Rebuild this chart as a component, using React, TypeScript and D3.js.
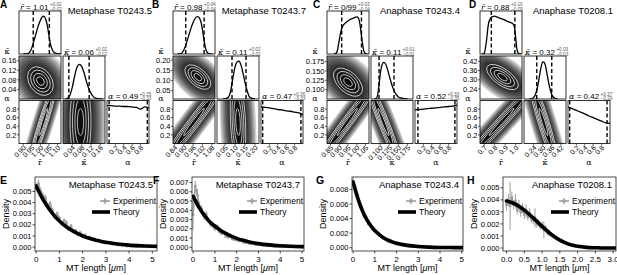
import React from "react";
import * as d3 from "d3";

const W = 617;
const H = 275;
const SANS = "'Liberation Sans', Arial, Helvetica, sans-serif";
const SERIF = "'DejaVu Serif', 'Liberation Serif', serif";

// ================= top row: corner plots =================
const cornerLetters = ["A", "B", "C", "D"];
const cornerTitles = ["Metaphase T0243.5", "Metaphase T0243.7", "Anaphase T0243.4", "Anaphase T0208.1"];
const cornerLeft = [19, 173, 327, 480];
const cornerLetterX = [0, 152, 313, 469];

const rDomains = [[0.875, 1.12], [0.83, 1.1], [0.83, 1.07], [0.66, 1.06]];
const kDomains = [[0, 0.18], [0.01, 0.22], [0.075, 0.19], [0.175, 0.455]];
const rTicks = [[0.9, 0.95, 1.0, 1.05, 1.1], [0.84, 0.9, 0.96, 1.02, 1.08], [0.85, 0.9, 0.95, 1.0, 1.05], [0.7, 0.8, 0.9, 1.0]];
const rTickFmt = [".2f", ".2f", ".2f", ".1f"];
const kTicks = [[0.04, 0.08, 0.12, 0.16], [0.05, 0.1, 0.15, 0.2], [0.1, 0.125, 0.15, 0.175], [0.24, 0.3, 0.36, 0.42]];
const kTickFmt = [".2f", ".2f", ".3f", ".2f"];
const aTicks = [0.2, 0.4, 0.6, 0.8];

const rEst = ["1.01", "0.98", "0/99", "0.88"];
const rPlus = ["0.02", "0.04", "0.03", "0.10"];
const rMinus = ["0.02", "0.04", "0.04", "0.09"];
const kEst = ["0.06", "0.11", "0.11", "0.32"];
const kPlus = ["0.02", "0.02", "0.01", "0.03"];
const kMinus = ["0.02", "0.02", "0.01", "0.03"];
const aEst = ["0.49", "0.47", "0.52", "0.42"];
const aPlus = ["0.35", "0.36", "0.30", "0.37"];
const aMinus = ["0.33", "0.33", "0.35", "0.29"];

// marginal histograms of r (x values, relative heights)
const rHistX = [
  [0.9, 0.92, 0.93, 0.94, 0.95, 0.96, 0.97, 0.98, 0.99, 1.0, 1.01, 1.02, 1.03, 1.04, 1.05, 1.06, 1.07, 1.08, 1.09, 1.1, 1.12],
  [0.86, 0.88, 0.89, 0.9, 0.91, 0.92, 0.93, 0.94, 0.95, 0.96, 0.97, 0.98, 0.99, 1.0, 1.01, 1.02, 1.03, 1.04, 1.05, 1.06, 1.08],
  [0.87, 0.88, 0.89, 0.9, 0.91, 0.92, 0.93, 0.94, 0.95, 0.96, 0.97, 0.98, 0.99, 1.0, 1.01, 1.02, 1.03, 1.04, 1.05, 1.06],
  [0.68, 0.7, 0.72, 0.74, 0.76, 0.78, 0.8, 0.82, 0.84, 0.86, 0.88, 0.9, 0.92, 0.94, 0.96, 0.98, 0.99, 1.0, 1.01, 1.02, 1.03, 1.05],
];
const rHistY = [
  [0, 0, 0.02, 0.06, 0.16, 0.3, 0.45, 0.6, 0.74, 0.85, 0.93, 0.95, 0.88, 0.72, 0.45, 0.22, 0.1, 0.04, 0.02, 0.01, 0],
  [0, 0.01, 0.04, 0.1, 0.2, 0.32, 0.45, 0.58, 0.7, 0.8, 0.88, 0.93, 0.94, 0.9, 0.8, 0.6, 0.33, 0.13, 0.04, 0.01, 0],
  [0, 0.01, 0.1, 0.35, 0.58, 0.7, 0.76, 0.8, 0.83, 0.86, 0.88, 0.9, 0.92, 0.93, 0.9, 0.7, 0.35, 0.08, 0.01, 0],
  [0, 0.02, 0.3, 0.75, 0.9, 0.94, 0.95, 0.93, 0.91, 0.89, 0.87, 0.85, 0.82, 0.8, 0.78, 0.74, 0.65, 0.4, 0.15, 0.04, 0.01, 0],
];
const rDash = [[0.958, 1.052], [0.912, 1.03], [0.914, 1.027], [0.768, 0.992]];

// marginal histograms of kappa
const kHistX = [
  [0.01, 0.02, 0.03, 0.04, 0.05, 0.06, 0.07, 0.08, 0.09, 0.1, 0.11, 0.12, 0.13, 0.14, 0.15, 0.17],
  [0.04, 0.06, 0.07, 0.08, 0.09, 0.1, 0.11, 0.12, 0.13, 0.14, 0.15, 0.16, 0.17, 0.18, 0.2],
  [0.085, 0.09, 0.095, 0.1, 0.105, 0.11, 0.115, 0.12, 0.125, 0.13, 0.135, 0.14, 0.145, 0.15, 0.16, 0.175],
  [0.21, 0.23, 0.24, 0.25, 0.26, 0.27, 0.28, 0.29, 0.3, 0.31, 0.32, 0.33, 0.34, 0.35, 0.36, 0.37, 0.38, 0.4],
];
const kHistY = [
  [0, 0.02, 0.1, 0.3, 0.58, 0.8, 0.87, 0.82, 0.66, 0.45, 0.27, 0.14, 0.06, 0.02, 0.01, 0],
  [0, 0.02, 0.07, 0.25, 0.55, 0.8, 0.93, 0.95, 0.85, 0.65, 0.42, 0.22, 0.07, 0.02, 0],
  [0, 0.02, 0.2, 0.6, 0.85, 0.92, 0.88, 0.75, 0.58, 0.42, 0.28, 0.17, 0.1, 0.05, 0.02, 0],
  [0, 0.01, 0.04, 0.1, 0.22, 0.4, 0.62, 0.82, 0.93, 0.92, 0.8, 0.6, 0.4, 0.23, 0.11, 0.05, 0.02, 0],
];
const kDash = [[0.025, 0.112], [0.085, 0.155], [0.097, 0.138], [0.26, 0.36]];

// marginal histograms of alpha
const aHistX = [0, 0.1, 0.2, 0.3, 0.4, 0.5, 0.6, 0.7, 0.8, 0.9, 1.0];
const aHistY = [
  [0.88, 0.88, 0.87, 0.87, 0.86, 0.86, 0.85, 0.84, 0.8, 0.85, 0.82],
  [0.86, 0.84, 0.83, 0.81, 0.79, 0.78, 0.76, 0.75, 0.73, 0.71, 0.67],
  [0.78, 0.79, 0.8, 0.81, 0.82, 0.83, 0.84, 0.85, 0.86, 0.87, 0.89],
  [0.85, 0.81, 0.77, 0.73, 0.69, 0.64, 0.6, 0.56, 0.52, 0.48, 0.47],
];
const aDash = [[0.05, 0.96], [0.04, 0.95], [0.07, 0.95], [0.04, 0.93]];

// joint densities: kappa vs r (cloud: centre, sd, correlation)
const krCenter = [[1.0, 0.075], [0.99, 0.117], [0.95, 0.12], [0.874, 0.318]];
const krSd = [[0.05, 0.04], [0.055, 0.04], [0.055, 0.025], [0.1, 0.055]];
const krRho = [-0.3, -0.55, -0.5, -0.65];
// alpha vs r (band: r at alpha=0.5, slope dr/dalpha, width)
const arCenter = [1.017, 0.965, 0.946, 0.865];
const arSlope = [0.078, 0.206, 0.18, 0.37];
const arWidth = [0.018, 0.03, 0.025, 0.045];
// alpha vs kappa
const akCenter = [0.075, 0.115, 0.109, 0.305];
const akSlope = [0, -0.01, -0.046, -0.087];
const akWidth = [0.03, 0.025, 0.01, 0.025];
const ALPHA_SD = 0.7;

const CELL_W = 42;
const CELL_H = 43;
const STEP_X = 44;
const ROW_TOP = [11, 56, 100.5];
const HIST_MAX = 1.08;
const SHADE_LEVELS = [3.6, 3.3, 3.0, 2.75, 2.5, 2.25, 2.0, 1.8, 1.6, 1.4, 1.2, 1.0, 0.8, 0.6];
const SHADE_OPACITY = 0.18;
const CONTOUR_LEVELS = [0.45, 0.8, 1.15, 1.5];

function shape(kx: number, ky: number, Sxx: number, Syy: number, Sxy: number) {
  const a = kx * kx * Sxx;
  const b = ky * ky * Syy;
  const c = kx * ky * Sxy;
  const mid = (a + b) / 2;
  const d = Math.sqrt(((a - b) / 2) ** 2 + c * c);
  const l1 = mid + d;
  const l2 = Math.max(mid - d, 0.01);
  const ang = (0.5 * Math.atan2(2 * c, a - b) * 180) / Math.PI;
  return { rx: Math.sqrt(l1), ry: Math.sqrt(l2), ang };
}

function Frame({ x, y }: { x: number; y: number }) {
  return <rect x={x} y={y} width={CELL_W} height={CELL_H} fill="none" stroke="#000" strokeWidth={0.8} />;
}

function DensityCell({ id, x0, y0, px, py, sh }: any) {
  return (
    <g>
      <clipPath id={id}>
        <rect x={x0} y={y0} width={CELL_W} height={CELL_H} />
      </clipPath>
      <g clipPath={`url(#${id})`}>
        <rect x={x0} y={y0} width={CELL_W} height={CELL_H} fill="#fff" />
        <g transform={`translate(${px},${py}) rotate(${sh.ang})`}>
          {SHADE_LEVELS.map((m, k) => (
            <ellipse key={"s" + k} rx={m * sh.rx} ry={m * sh.ry} fill="#000" fillOpacity={SHADE_OPACITY} />
          ))}
          {CONTOUR_LEVELS.map((m, k) => (
            <ellipse key={"c" + k} rx={m * sh.rx} ry={m * sh.ry} fill="none" stroke="#fff" strokeWidth={0.7} />
          ))}
        </g>
      </g>
      <Frame x={x0} y={y0} />
    </g>
  );
}

function HistCell({ id, x0, y0, xs, ys, xScale, dash, yMax }: any) {
  const yS = d3.scaleLinear([0, yMax], [y0 + CELL_H, y0]);
  const line = d3
    .line<number>()
    .x((_, k) => xScale(xs[k]))
    .y((v) => yS(v))
    .curve(d3.curveMonotoneX);
  return (
    <g>
      <clipPath id={id}>
        <rect x={x0} y={y0} width={CELL_W} height={CELL_H} />
      </clipPath>
      <g clipPath={`url(#${id})`}>
        <path d={line(ys) || ""} fill="none" stroke="#000" strokeWidth={1.3} />
        {dash.map((v: number, k: number) => (
          <line key={k} x1={xScale(v)} x2={xScale(v)} y1={y0} y2={y0 + CELL_H} stroke="#000" strokeWidth={1.4} strokeDasharray="4 2.5" />
        ))}
      </g>
      <Frame x={x0} y={y0} />
    </g>
  );
}

function EstLabel({ x, y, sym, est, plus, minus }: any) {
  const supW = 11.5;
  return (
    <text x={x} y={y} fontFamily={SANS} fontSize={8} fill="#000">
      <tspan fontFamily={SERIF} fontStyle="italic">{sym}</tspan>
      <tspan>{" = " + est}</tspan>
      <tspan fontSize={4.6} fill="#555" dx={1.5} dy={-3.2}>{"+" + plus}</tspan>
      <tspan fontSize={4.6} fill="#555" dx={-supW} dy={4.6}>{"\u2212" + minus}</tspan>
    </text>
  );
}

function Corner({ i }: { i: number }) {
  const L = cornerLeft[i];
  const cx = [L, L + STEP_X, L + 2 * STEP_X];
  const xR = d3.scaleLinear(rDomains[i], [cx[0], cx[0] + CELL_W]);
  const xK = d3.scaleLinear(kDomains[i], [cx[1], cx[1] + CELL_W]);
  const xA = d3.scaleLinear([0, 1], [cx[2], cx[2] + CELL_W]);
  const yK = d3.scaleLinear(kDomains[i], [ROW_TOP[1] + CELL_H, ROW_TOP[1]]);
  const yA = d3.scaleLinear([0, 1], [ROW_TOP[2] + CELL_H, ROW_TOP[2]]);
  const slope = (s: any) => s(1) - s(0);

  const [sr, sk] = krSd[i];
  const krShape = shape(slope(xR), slope(yK), sr * sr, sk * sk, krRho[i] * sr * sk);
  const va = ALPHA_SD * ALPHA_SD;
  const arShape = shape(slope(xR), slope(yA), arSlope[i] ** 2 * va + arWidth[i] ** 2, va, arSlope[i] * va);
  const akShape = shape(slope(xK), slope(yA), akSlope[i] ** 2 * va + akWidth[i] ** 2, va, akSlope[i] * va);

  const bottom = ROW_TOP[2] + CELL_H;
  const rf = d3.format(rTickFmt[i]);
  const kf = d3.format(kTickFmt[i]);
  const af = d3.format(".1f");

  const xTickSets: [any, number[], (v: number) => string][] = [
    [xR, rTicks[i], rf],
    [xK, kTicks[i], kf],
    [xA, aTicks, af],
  ];

  return (
    <g>
      <text x={cornerLetterX[i]} y={8} fontFamily={SANS} fontWeight="bold" fontSize={10}>
        {cornerLetters[i]}
      </text>
      <text x={cx[2] + CELL_W + 3} y={13.5} textAnchor="end" fontFamily={SANS} fontSize={9.5}>
        {cornerTitles[i]}
      </text>

      <HistCell id={`rh${i}`} x0={cx[0]} y0={ROW_TOP[0]} xs={rHistX[i]} ys={rHistY[i]} xScale={xR} dash={rDash[i]} yMax={HIST_MAX} />
      <DensityCell id={`kr${i}`} x0={cx[0]} y0={ROW_TOP[1]} px={xR(krCenter[i][0])} py={yK(krCenter[i][1])} sh={krShape} />
      <HistCell id={`kh${i}`} x0={cx[1]} y0={ROW_TOP[1]} xs={kHistX[i]} ys={kHistY[i]} xScale={xK} dash={kDash[i]} yMax={HIST_MAX} />
      <DensityCell id={`ar${i}`} x0={cx[0]} y0={ROW_TOP[2]} px={xR(arCenter[i])} py={yA(0.5)} sh={arShape} />
      <DensityCell id={`ak${i}`} x0={cx[1]} y0={ROW_TOP[2]} px={xK(akCenter[i])} py={yA(0.5)} sh={akShape} />
      <HistCell id={`ah${i}`} x0={cx[2]} y0={ROW_TOP[2]} xs={aHistX} ys={aHistY[i]} xScale={xA} dash={aDash[i]} yMax={1} />

      <EstLabel x={cx[0] + 1} y={ROW_TOP[0] - 1.5} sym={"r\u0304"} est={rEst[i]} plus={rPlus[i]} minus={rMinus[i]} />
      <EstLabel x={cx[1] + 1} y={ROW_TOP[1] - 1.5} sym={"\u03ba\u0304"} est={kEst[i]} plus={kPlus[i]} minus={kMinus[i]} />
      <EstLabel x={cx[2] + 1} y={ROW_TOP[2] - 1.5} sym={"\u03b1"} est={aEst[i]} plus={aPlus[i]} minus={aMinus[i]} />

      {/* y axis labels */}
      <text x={L - 12} y={ROW_TOP[1] - 2} textAnchor="middle" fontFamily={SERIF} fontSize={8}>
        {"\u03ba\u0304"}
      </text>
      <text x={L - 12} y={ROW_TOP[2] + 0.5} textAnchor="middle" fontFamily={SERIF} fontSize={8}>
        {"\u03b1"}
      </text>
      {kTicks[i].map((t) => (
        <g key={"ky" + t}>
          <line x1={L - 2} x2={L} y1={yK(t)} y2={yK(t)} stroke="#000" strokeWidth={0.6} />
          <text x={L - 2.5} y={yK(t)} dy="0.35em" textAnchor="end" fontFamily={SANS} fontSize={7.5}>
            {kf(t)}
          </text>
        </g>
      ))}
      {aTicks.map((t) => (
        <g key={"ay" + t}>
          <line x1={L - 2} x2={L} y1={yA(t)} y2={yA(t)} stroke="#000" strokeWidth={0.6} />
          <text x={L - 2.5} y={yA(t)} dy="0.35em" textAnchor="end" fontFamily={SANS} fontSize={7.5}>
            {af(t)}
          </text>
        </g>
      ))}

      {/* x axis ticks (rotated) */}
      {xTickSets.map(([s, ticks, f], c) =>
        ticks.map((t) => (
          <g key={`xt${c}-${t}`}>
            <line x1={s(t)} x2={s(t)} y1={bottom} y2={bottom + 2} stroke="#000" strokeWidth={0.6} />
            <text
              transform={`translate(${s(t) + 1.5},${bottom + 3}) rotate(-45)`}
              textAnchor="end"
              dy="0.35em"
              fontFamily={SANS}
              fontSize={7}
            >
              {f(t)}
            </text>
          </g>
        ))
      )}
      <text x={cx[0] + CELL_W / 2} y={165} textAnchor="middle" fontFamily={SERIF} fontSize={8}>
        {"r\u0304"}
      </text>
      <text x={cx[1] + CELL_W / 2} y={165} textAnchor="middle" fontFamily={SERIF} fontSize={8}>
        {"\u03ba\u0304"}
      </text>
      <text x={cx[2] + CELL_W / 2} y={165} textAnchor="middle" fontFamily={SERIF} fontSize={8}>
        {"\u03b1"}
      </text>
    </g>
  );
}

// ================= bottom row: length distributions =================
const bottomLetters = ["E", "F", "G", "H"];
const bottomTitles = ["Metaphase T0243.5", "Metaphase T0243.7", "Anaphase T0243.4", "Anaphase T0208.1"];
const bottomLetterX = [0, 153, 316, 467];
const bottomBoxX = [[35, 157], [192, 304], [352, 463], [503, 616]];
const bxDomains = [[-0.05, 5.2], [-0.05, 5.09], [-0.05, 5.06], [-0.1, 3.08]];
const byDomains = [[-0.00035, 0.0063], [-0.0004, 0.0076], [-0.00045, 0.0097], [-0.00025, 0.0059]];
const bxTicks = [[0, 1, 2, 3, 4, 5], [0, 1, 2, 3, 4, 5], [0, 1, 2, 3, 4, 5], [0, 0.5, 1, 1.5, 2, 2.5, 3]];
const bxFmt = ["d", "d", "d", ".1f"];
const byTicks = [
  [0, 0.001, 0.002, 0.003, 0.004, 0.005],
  [0, 0.001, 0.002, 0.003, 0.004, 0.005, 0.006, 0.007],
  [0, 0.002, 0.004, 0.006, 0.008],
  [0, 0.001, 0.002, 0.003, 0.004, 0.005],
];
const DENS_UNIT = 1e-3;
const expStep = [0.1, 0.1, 0.1, 0.05];

const expE = [5.4, 5.7, 5.0, 4.6, 4.4, 3.7, 3.9, 3.3, 2.7, 3.0, 2.6, 2.1, 2.4, 2.2, 1.6, 1.9, 1.4, 1.5, 1.1, 1.3, 1.0, 1.1, 0.8, 0.9, 0.7, 0.75, 0.55, 0.6, 0.45, 0.5, 0.35, 0.4, 0.3, 0.25, 0.3, 0.2, 0.2, 0.15, 0.18, 0.1, 0.12, 0.08, 0.1, 0.06, 0.07, 0.05, 0.04, 0.05, 0.03, 0.03, 0.02];
const errE = [0.35, 0.35, 0.3, 0.3, 0.28, 0.25, 0.25, 0.22, 0.2, 0.22, 0.2, 0.18, 0.2, 0.18, 0.15, 0.16, 0.14, 0.14, 0.12, 0.12, 0.1, 0.1, 0.09, 0.09, 0.08, 0.08, 0.07, 0.07, 0.06, 0.06, 0.06, 0.05, 0.05, 0.05, 0.05, 0.04, 0.04, 0.04, 0.04, 0.03, 0.03, 0.03, 0.03, 0.03, 0.03, 0.02, 0.02, 0.02, 0.02, 0.02, 0.02];
const expF = [3.5, 6.6, 5.6, 4.4, 4.1, 3.4, 3.6, 2.9, 2.5, 2.3, 2.0, 2.2, 1.7, 1.5, 1.6, 1.2, 1.1, 1.2, 0.9, 0.85, 0.8, 0.7, 0.75, 0.55, 0.5, 0.55, 0.4, 0.45, 0.35, 0.3, 0.3, 0.28, 0.22, 0.25, 0.18, 0.16, 0.15, 0.12, 0.1, 0.11, 0.09, 0.08, 0.07, 0.07, 0.05, 0.05, 0.04, 0.04, 0.03, 0.03, 0.02];
const errF = [1.6, 0.6, 0.7, 0.5, 0.45, 0.4, 0.35, 0.3, 0.3, 0.25, 0.25, 0.25, 0.2, 0.2, 0.2, 0.15, 0.15, 0.15, 0.12, 0.12, 0.1, 0.1, 0.1, 0.08, 0.08, 0.08, 0.07, 0.07, 0.06, 0.06, 0.05, 0.05, 0.05, 0.05, 0.04, 0.04, 0.04, 0.04, 0.03, 0.03, 0.03, 0.03, 0.03, 0.03, 0.02, 0.02, 0.02, 0.02, 0.02, 0.02, 0.02];
const expG = [9.1, 8.2, 7.2, 5.8, 5.5, 4.4, 4.2, 3.3, 3.1, 2.5, 2.3, 2.0, 1.7, 1.45, 1.25, 1.1, 0.9, 0.8, 0.7, 0.6, 0.5, 0.45, 0.36, 0.3, 0.28, 0.22, 0.2, 0.15, 0.14, 0.12, 0.1, 0.09, 0.07, 0.06, 0.05, 0.05, 0.04, 0.03, 0.03, 0.02, 0.02, 0.02, 0.01, 0.01, 0.01, 0.01, 0.01, 0, 0, 0, 0];
const errG = [0.5, 0.45, 0.4, 0.35, 0.3, 0.3, 0.25, 0.25, 0.2, 0.2, 0.15, 0.15, 0.15, 0.15, 0.15, 0.15, 0.15, 0.15, 0.15, 0.15, 0.1, 0.1, 0.1, 0.1, 0.1, 0.1, 0.1, 0.1, 0.1, 0.1, 0.05, 0.05, 0.05, 0.05, 0.05, 0.05, 0.05, 0.05, 0.05, 0.05, 0.03, 0.03, 0.03, 0.03, 0.03, 0.03, 0.03, 0.03, 0.03, 0.03, 0.02];
const expH = [3.6, 4.0, 3.5, 4.2, 3.6, 3.9, 3.2, 3.5, 3.0, 3.3, 2.8, 3.1, 2.6, 2.9, 2.4, 2.3, 2.5, 2.0, 2.1, 1.8, 1.9, 1.5, 1.6, 1.3, 1.2, 1.1, 1.0, 0.9, 0.85, 0.7, 0.65, 0.55, 0.5, 0.45, 0.35, 0.3, 0.28, 0.2, 0.22, 0.15, 0.12, 0.1, 0.15, 0.08, 0.1, 0.05, 0.06, 0.04, 0.03, 0.02, 0.02];
const errH = [0.5, 0.5, 2.0, 0.5, 0.4, 0.6, 0.4, 0.5, 0.4, 0.4, 0.4, 0.5, 0.3, 0.4, 0.3, 0.3, 0.8, 0.3, 0.3, 0.3, 0.3, 0.7, 0.3, 0.25, 0.25, 0.2, 0.2, 0.2, 0.2, 0.15, 0.15, 0.15, 0.12, 0.12, 0.1, 0.1, 0.1, 0.08, 0.08, 0.08, 0.06, 0.06, 0.06, 0.05, 0.05, 0.04, 0.04, 0.03, 0.03, 0.02, 0.02];
const expVals = [expE, expF, expG, expH];
const expErrs = [errE, errF, errG, errH];

const theoryXE = [0, 0.25, 0.5, 0.75, 1, 1.25, 1.5, 1.75, 2, 2.25, 2.5, 2.75, 3, 3.5, 4, 4.5, 5, 5.2];
const theoryE = [5.5, 4.45, 3.6, 2.9, 2.35, 1.9, 1.55, 1.25, 1.0, 0.82, 0.66, 0.54, 0.43, 0.28, 0.18, 0.12, 0.08, 0.07];
const theoryXF = [0, 0.25, 0.5, 0.75, 1, 1.25, 1.5, 1.75, 2, 2.25, 2.5, 2.75, 3, 3.5, 4, 4.5, 5.1];
const theoryF = [5.5, 4.4, 3.5, 2.8, 2.3, 1.85, 1.5, 1.2, 0.97, 0.78, 0.63, 0.5, 0.4, 0.26, 0.17, 0.11, 0.07];
const theoryXG = [0, 0.25, 0.5, 0.75, 1, 1.25, 1.5, 1.75, 2, 2.5, 3, 3.5, 4, 4.5, 5.1];
const theoryG = [9.0, 6.5, 4.6, 3.3, 2.35, 1.7, 1.2, 0.87, 0.62, 0.32, 0.16, 0.08, 0.04, 0.02, 0.01];
const theoryXH = [0, 0.25, 0.5, 0.75, 1, 1.25, 1.5, 1.75, 2, 2.25, 2.5, 2.75, 3.1];
const theoryH = [3.9, 3.65, 3.15, 2.5, 1.8, 1.15, 0.65, 0.32, 0.14, 0.05, 0.02, 0.0, 0.0];
const theoryXs = [theoryXE, theoryXF, theoryXG, theoryXH];
const theoryYs = [theoryE, theoryF, theoryG, theoryH];

const B_TOP = 177;
const B_BOTTOM = 251;
const EXP_GREY = "#9e9e9e";

function Bottom({ i }: { i: number }) {
  const [x0, x1] = bottomBoxX[i];
  const x = d3.scaleLinear(bxDomains[i], [x0, x1]);
  const y = d3.scaleLinear(byDomains[i], [B_BOTTOM, B_TOP]);
  const vals = expVals[i];
  const errs = expErrs[i];
  const step = expStep[i];
  const pts = vals.map((v, k) => ({ x: k * step, y: v * DENS_UNIT, e: (errs[k] ?? 0) * DENS_UNIT }));
  const expLine = d3
    .line<{ x: number; y: number }>()
    .x((d) => x(d.x))
    .y((d) => y(d.y));
  const tx = theoryXs[i];
  const theoryLine = d3
    .line<number>()
    .x((_, k) => x(tx[k]))
    .y((v) => y(v * DENS_UNIT))
    .curve(d3.curveMonotoneX);
  const xf = d3.format(bxFmt[i]);
  const yf = d3.format(".3f");
  const clipId = `bclip${i}`;
  const legX = x1 - 44;
  return (
    <g>
      <clipPath id={clipId}>
        <rect x={x0} y={B_TOP} width={x1 - x0} height={B_BOTTOM - B_TOP} />
      </clipPath>
      <text x={bottomLetterX[i]} y={184} fontFamily={SANS} fontWeight="bold" fontSize={10.5}>
        {bottomLetters[i]}
      </text>
      <g clipPath={`url(#${clipId})`}>
        {pts.map((d, k) => (
          <line key={"e" + k} x1={x(d.x)} x2={x(d.x)} y1={y(d.y - d.e)} y2={y(d.y + d.e)} stroke={EXP_GREY} strokeWidth={1} />
        ))}
        <path d={expLine(pts) || ""} fill="none" stroke={EXP_GREY} strokeWidth={1.6} />
        {pts.map((d, k) => (
          <rect key={"m" + k} x={x(d.x) - 1.3} y={y(d.y) - 1.3} width={2.6} height={2.6} fill={EXP_GREY} />
        ))}
        <path d={theoryLine(theoryYs[i]) || ""} fill="none" stroke="#000" strokeWidth={3.6} strokeLinecap="round" />
      </g>
      <rect x={x0} y={B_TOP} width={x1 - x0} height={B_BOTTOM - B_TOP} fill="none" stroke="#222" strokeWidth={0.8} />
      <text x={x1 - 4} y={B_TOP + 11} textAnchor="end" fontFamily={SANS} fontSize={9.5}>
        {bottomTitles[i]}
      </text>
      {/* legend */}
      <line x1={legX - 13} x2={legX - 3} y1={B_TOP + 24} y2={B_TOP + 24} stroke={EXP_GREY} strokeWidth={1.6} />
      <line x1={legX - 8} x2={legX - 8} y1={B_TOP + 21} y2={B_TOP + 27} stroke={EXP_GREY} strokeWidth={1.2} />
      <rect x={legX - 9.5} y={B_TOP + 22.5} width={3} height={3} fill={EXP_GREY} />
      <text x={legX} y={B_TOP + 27} fontFamily={SANS} fontSize={8.5}>
        Experiment
      </text>
      <line x1={legX - 21} x2={legX - 3} y1={B_TOP + 35} y2={B_TOP + 35} stroke="#000" strokeWidth={3.6} />
      <text x={legX} y={B_TOP + 38} fontFamily={SANS} fontSize={8.5}>
        Theory
      </text>
      {/* axes */}
      {bxTicks[i].map((t) => (
        <g key={"bx" + t}>
          <line x1={x(t)} x2={x(t)} y1={B_BOTTOM} y2={B_BOTTOM + 2.5} stroke="#000" strokeWidth={0.7} />
          <text x={x(t)} y={B_BOTTOM + 10.5} textAnchor="middle" fontFamily={SANS} fontSize={8}>
            {xf(t)}
          </text>
        </g>
      ))}
      {byTicks[i].map((t) => (
        <g key={"by" + t}>
          <line x1={x0 - 2.5} x2={x0} y1={y(t)} y2={y(t)} stroke="#000" strokeWidth={0.7} />
          <text x={x0 - 3.5} y={y(t)} dy="0.35em" textAnchor="end" fontFamily={SANS} fontSize={7.5}>
            {yf(t)}
          </text>
        </g>
      ))}
      <text x={(x0 + x1) / 2} y={271} textAnchor="middle" fontFamily={SANS} fontSize={9}>
        MT length [<tspan fontStyle="italic">μ</tspan>m]
      </text>
      <text transform={`translate(${x0 - 26},${(B_TOP + B_BOTTOM) / 2}) rotate(-90)`} textAnchor="middle" fontFamily={SANS} fontSize={9}>
        Density
      </text>
    </g>
  );
}

export default function App() {
  return (
    <svg
      width={W}
      height={H}
      viewBox={`0 0 ${W} ${H}`}
      style={{ position: "absolute", left: 0, top: 0, background: "#fff" }}
    >
      <rect x={0} y={0} width={W} height={H} fill="#fff" />
      {[0, 1, 2, 3].map((i) => (
        <Corner key={"c" + i} i={i} />
      ))}
      {[0, 1, 2, 3].map((i) => (
        <Bottom key={"b" + i} i={i} />
      ))}
    </svg>
  );
}
